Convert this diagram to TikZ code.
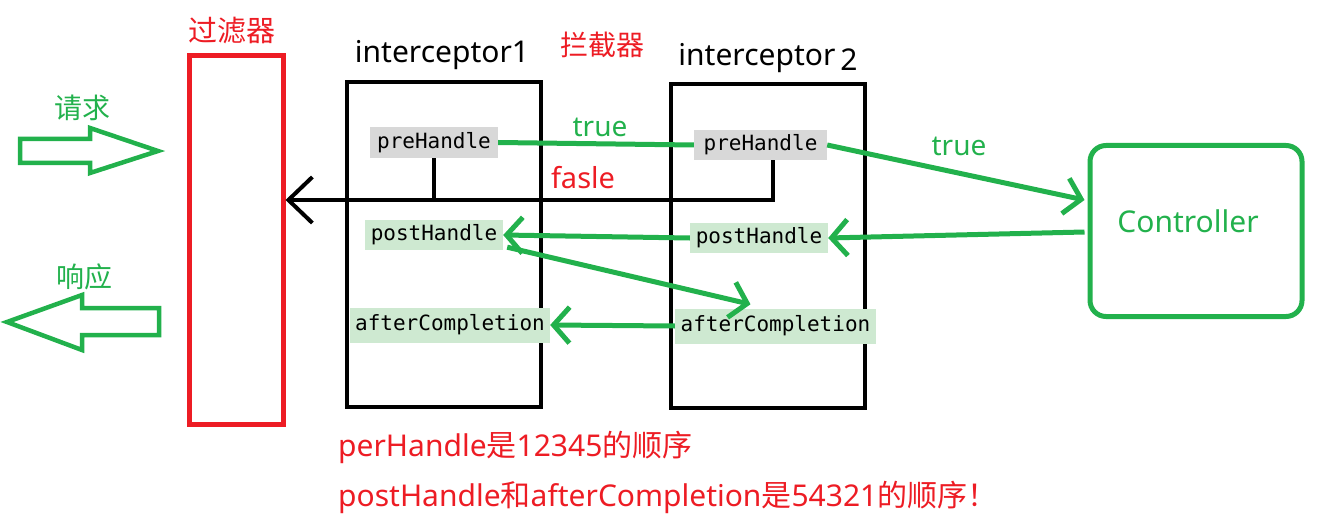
\documentclass[tikz,border=0pt]{standalone}
\usepackage{fontspec}
\setmainfont{Noto Sans}
\setmonofont{DejaVu Sans Mono}
\newfontfamily\cjk{Noto Sans CJK SC}
\usetikzlibrary{arrows.meta,calc}
\definecolor{pgreen}{RGB}{34,177,76}
\definecolor{pred}{RGB}{237,28,36}
\definecolor{lgreen}{RGB}{206,233,209}
\definecolor{lgray}{RGB}{216,216,216}
\begin{document}
\begin{tikzpicture}[x=1pt,y=-1pt,
  meth/.style={font=\ttfamily\fontsize{21}{21}\selectfont, inner sep=0pt, anchor=center},
  ibox/.style={draw=black, line width=4pt, inner sep=0pt},
  gline/.style={draw=pgreen, line width=5pt},
  barb/.style={-{Straight Barb[length=16pt,width=36pt]}},
  lbl/.style={inner sep=0pt, anchor=center}
]
\useasboundingbox (0,0) rectangle (1320,524);
% filter
\node[draw=pred, line width=5pt, minimum width=94pt, minimum height=368pt, inner sep=0pt] (filter) at (236,240) {};
\node[lbl, text=pred, font=\cjk\fontsize{29}{29}\selectfont] (flbl) at (232,31) {过滤器};
% request / response arrows
\draw[draw=pgreen, line width=4.5pt, line join=miter]
  (20,139) -- (90,139) -- (90,128) -- (158,151) -- (90,173) -- (90,163) -- (20,163) -- cycle;
\draw[draw=pgreen, line width=4.5pt, line join=miter]
  (7,322) -- (82,295) -- (82,308) -- (159,308) -- (159,335) -- (82,335) -- (82,350) -- cycle;
\node[lbl, text=pgreen, font=\cjk\fontsize{28}{28}\selectfont] (req) at (82,108) {请求};
\node[lbl, text=pgreen, font=\cjk\fontsize{28}{28}\selectfont] (resp) at (84,277) {响应};
% interceptor boxes
\node[ibox, minimum width=194pt, minimum height=325pt] (int1) at (444,244.5) {};
\node[ibox, minimum width=194pt, minimum height=324pt] (int2) at (768,246) {};
\node[lbl, font=\fontsize{30}{30}\selectfont] (int1l) at (442,55) {interceptor1};
\node[lbl, font=\fontsize{30}{30}\selectfont] (int2l) at (768,58) {interceptor\,\raisebox{-5pt}{2}};
\node[lbl, text=pred, font=\cjk\fontsize{28}{28}\selectfont] (ljq) at (602,45) {拦截器};
% method boxes
\node[meth, fill=lgray, minimum width=128pt, minimum height=31pt] (pre1) at (434,142.5) {preHandle};
\node[meth, fill=lgray, minimum width=133pt, minimum height=30pt] (pre2) at (760.5,145) {preHandle};
\node[meth, fill=lgreen, minimum width=138pt, minimum height=30pt] (post1) at (434,235) {postHandle};
\node[meth, fill=lgreen, minimum width=138pt, minimum height=30pt] (post2) at (759,238) {postHandle};
\node[meth, fill=lgreen, minimum width=200pt, minimum height=35pt] (aft1) at (450,325) {afterCompletion};
\node[meth, fill=lgreen, minimum width=201pt, minimum height=35pt] (aft2) at (775.5,326) {afterCompletion};
% controller
\node[draw=pgreen, line width=5pt, rounded corners=16pt, minimum width=212pt, minimum height=171pt, inner sep=0pt] (ctrl) at (1196,231) {};
\node[lbl, text=pgreen, font=\fontsize{30}{30}\selectfont] (ctrll) at (1188,221) {Controller};
% false path (black)
\coordinate (fj) at (600,200);
\draw[line width=4pt] (pre1.south) -- (pre1.south |- fj);
\draw[line width=4pt, -{Straight Barb[length=24pt,width=46pt]}] ([xshift=12.5pt]pre2.south) |- (filter.east |- fj);
% green flows
\draw[gline] (pre1.east) -- (pre2.west);
\draw[gline, barb] (pre2.east) -- ($(ctrl.west)+(-3,-31)$);
\draw[gline, barb] ($(ctrl.west)+(-3,1)$) -- (post2.east);
\draw[gline, barb] (post2.west) -- (post1.east);
\draw[gline, barb] ($(post1.south east)+(4,-3)$) -- ($(aft2.north)+(-25,-4)$);
\draw[gline, barb] (aft2.west) -- (aft1.east);
% labels
\node[lbl, text=pgreen, font=\fontsize{28}{28}\selectfont] (t1) at (600,127) {true};
\node[lbl, text=pgreen, font=\fontsize{28}{28}\selectfont] (t2) at (959,146) {true};
\node[lbl, text=pred, font=\fontsize{29}{29}\selectfont] (f1) at (583,178) {fasle};
\node[anchor=west, inner sep=0pt, text=pred, font=\fontsize{30}{30}\selectfont] (n1) at (338,447) {perHandle{\cjk 是}12345{\cjk 的顺序}};
\node[anchor=west, inner sep=0pt, text=pred, font=\fontsize{30}{30}\selectfont] (n2) at (338,497) {postHandle{\cjk 和}afterCompletion{\cjk 是}54321{\cjk 的顺序！}};
\end{tikzpicture}
\end{document}
